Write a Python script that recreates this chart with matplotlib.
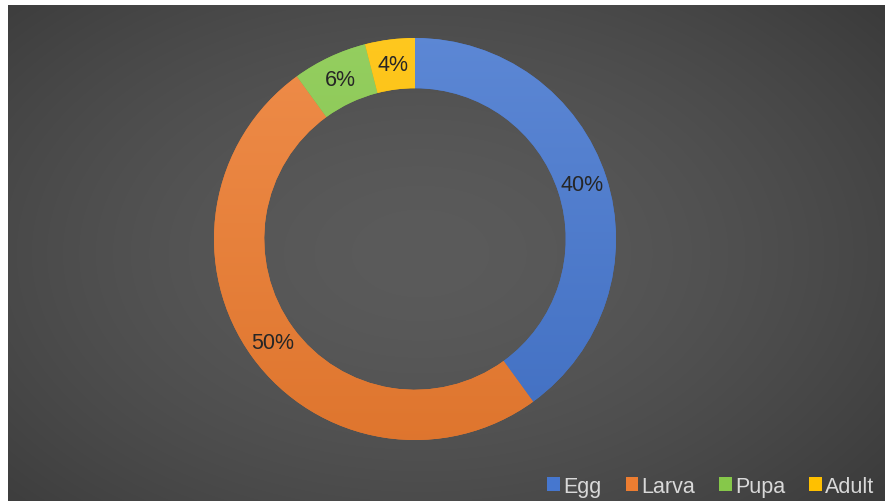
import matplotlib.pyplot as plt
import numpy as np
from matplotlib.patches import Patch
from matplotlib.colors import to_rgb

stages = ['Egg', 'Larva', 'Pupa', 'Adult']
shares = [40, 50, 6, 4]
colors = ['#4677CF', '#ED7D31', '#86C84A', '#FFC000']

plt.rcParams['font.family'] = ['Liberation Sans', 'DejaVu Sans']

W, H = 885, 502
fig = plt.figure(figsize=(W / 100, H / 100), dpi=100)
fig.patch.set_facecolor('white')

# dark panel with radial gradient
bg = fig.add_axes([8 / W, 0, (W - 8) / W, (H - 6) / H])
yy, xx = np.mgrid[0:496, 0:877]
cx, cy = 877 * 0.47, 496 * 0.5
d = np.sqrt(((xx - cx) / 470) ** 2 + ((yy - cy) / 300) ** 2)
shade = np.clip(0x5b / 255 - (d ** 1.6) * 0.085, 0.16, 1)
img = np.dstack([shade, shade, shade])
bg.imshow(img, aspect='auto', extent=[0, 1, 0, 1])
bg.set_axis_off()

# donut
R = 201
cxp, cyp = 415, H - 240
ax = fig.add_axes([(cxp - R) / W, (cyp - R) / H, 2 * R / W, 2 * R / H])
ax.set_facecolor('none')
wedges, texts = ax.pie(shares, colors=colors, startangle=90, counterclock=False,
                       radius=1, wedgeprops=dict(width=0.25, edgecolor='none'),
                       labels=[f'{s}%' for s in shares], labeldistance=0.875,
                       textprops=dict(color='#262626', fontsize=15.5, ha='center', va='center'))

# soft shading: lighter at the top, darker at the bottom
gy = np.linspace(1, 0, 256)[:, None]
for w, c in zip(wedges, colors):
    base = np.array(to_rgb(c))
    t = gy[..., None]
    light = base + (1 - base) * 0.12
    dark = base * 0.94
    grad = dark + (light - dark) * t
    grad = np.repeat(grad, 2, axis=1)
    im = ax.imshow(np.clip(grad, 0, 1), extent=[-1, 1, -1, 1], aspect='auto', zorder=1.5)
    im.set_clip_path(w)
for t in texts:
    t.set_zorder(3)
ax.set_xlim(-1, 1)
ax.set_ylim(-1, 1)
ax.set_axis_off()

handles = [Patch(facecolor=c, edgecolor='none') for c in colors]
fig.legend(handles, stages, loc='lower right', bbox_to_anchor=(1.01, -0.03), ncol=4,
           frameon=False, fontsize=15.5, labelcolor='#D9D9D9',
           handlelength=0.6, handleheight=0.6, handletextpad=0.15, columnspacing=1.1)

fig.savefig('out.png', dpi=100)
